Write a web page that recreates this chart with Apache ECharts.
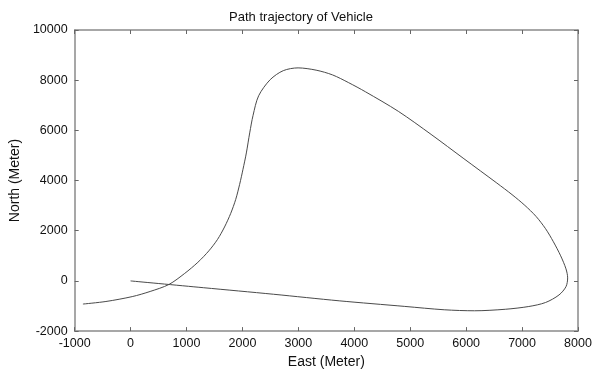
<!DOCTYPE html>
<html>
<head>
<meta charset="utf-8">
<script src="https://cdn.jsdelivr.net/npm/echarts@6/dist/echarts.min.js"></script>
<style>
html,body{margin:0;padding:0;background:#fff;}
#chart{width:602px;height:374px;}
</style>
</head>
<body>
<div id="chart"></div>
<script>
// Path points (East, North) in meters
var eastValues = [-852, -441, 29, 350, 686, 968, 1203, 1400, 1555, 1680, 1791, 1880, 1950, 2010, 2070, 2130, 2190, 2290, 2496, 2730, 2995, 3317, 3611, 3900, 4198, 4787, 5373, 5960, 6549, 6820, 7050, 7250, 7420, 7560, 7690, 7785, 7815, 7785, 7660, 7420, 7120, 6700, 6150, 5608, 4903, 3730, 2554, 1300, 0];
var northValues = [-922, -820, -625, -420, -141, 300, 742, 1200, 1656, 2150, 2695, 3250, 3850, 4450, 5100, 5900, 6600, 7380, 8020, 8380, 8490, 8400, 8210, 7900, 7540, 6760, 5840, 4870, 3900, 3440, 3010, 2570, 2080, 1560, 1000, 480, 120, -230, -560, -860, -1020, -1130, -1190, -1150, -1016, -793, -531, -270, 0];
var xTicks = {min: -1000, max: 8000, interval: 1000};
var yTicks = {min: -2000, max: 10000, interval: 2000};
var titleText = 'Path trajectory of Vehicle';
var xName = 'East (Meter)';
var yName = 'North (Meter)';

var points = eastValues.map(function (e, i) { return [e, northValues[i]]; });

var font = 'Liberation Sans, Arial, sans-serif';
var chart = echarts.init(document.getElementById('chart'), null, {renderer: 'canvas'});
var axisLine = {show: true, onZero: false, lineStyle: {color: '#8a8a8a', width: 1.5}};
var axisTick = {show: true, inside: true, length: 4, lineStyle: {color: '#666', width: 1}};
var plain = function (v) { return String(v); };
chart.setOption({
  animation: false,
  backgroundColor: '#fff',
  title: {
    text: titleText, left: 'center', top: 6,
    textStyle: {fontFamily: font, fontSize: 13, fontWeight: 'normal', color: '#111'}
  },
  grid: {left: 68, right: 24, top: 30, bottom: 38, containLabel: false},
  xAxis: [{
    type: 'value', position: 'bottom', min: xTicks.min, max: xTicks.max, interval: xTicks.interval,
    axisLine: axisLine, axisTick: axisTick, splitLine: {show: false},
    axisLabel: {fontFamily: font, fontSize: 12.5, color: '#111', margin: 6, formatter: plain},
    name: xName, nameLocation: 'middle', nameGap: 21,
    nameTextStyle: {fontFamily: font, fontSize: 14, color: '#111'}
  }, {
    type: 'value', position: 'top', min: xTicks.min, max: xTicks.max, interval: xTicks.interval,
    axisLine: axisLine, axisTick: axisTick, splitLine: {show: false}, axisLabel: {show: false}
  }],
  yAxis: [{
    type: 'value', position: 'left', min: yTicks.min, max: yTicks.max, interval: yTicks.interval,
    axisLine: axisLine, axisTick: axisTick, splitLine: {show: false},
    axisLabel: {fontFamily: font, fontSize: 12.5, color: '#111', margin: 7, formatter: plain},
    name: yName, nameLocation: 'middle', nameGap: 37,
    nameTextStyle: {fontFamily: font, fontSize: 14, color: '#111'}
  }, {
    type: 'value', position: 'right', min: yTicks.min, max: yTicks.max, interval: yTicks.interval,
    axisLine: axisLine, axisTick: axisTick, splitLine: {show: false}, axisLabel: {show: false}
  }],
  series: [{
    type: 'line', xAxisIndex: 0, yAxisIndex: 0, data: points,
    showSymbol: false, smooth: 0.3,
    lineStyle: {color: '#4a4a4a', width: 1}
  }]
});
</script>
</body>
</html>
